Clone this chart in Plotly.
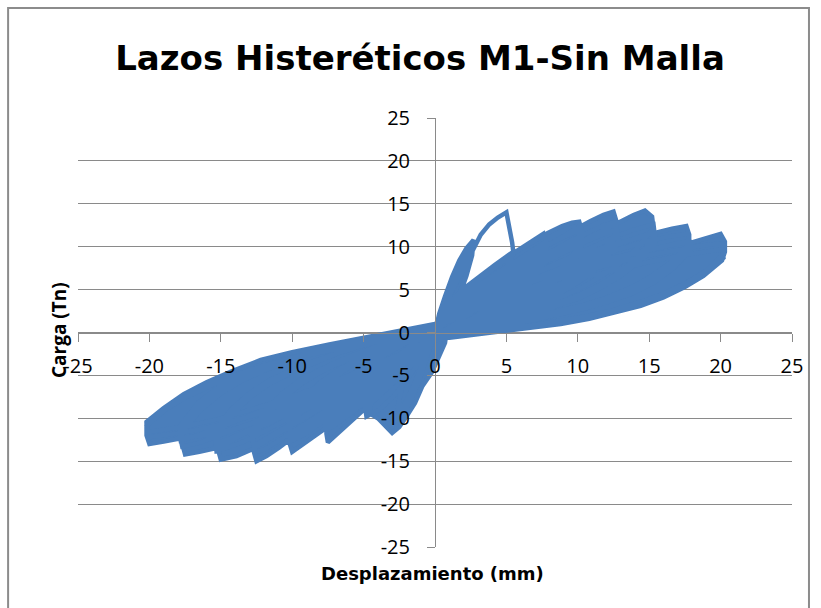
import plotly.graph_objects as go

# ---------------- data (desplazamiento mm, carga Tn) ----------------
desp_2_5 = [
    0.0, 0.3, 0.7, 1.2, 1.7, 2.2, 2.7,
    2.6, 2.2, 1.7, 1.2, 0.7, 0.3, 0.0,
    -0.4, -0.8, -1.2, -1.7, -2.1, -2.5,
    -2.6, -2.3, -1.9, -1.4, -0.9, -0.4, 0.0,
    0.3, 0.7, 1.1, 1.6, 2.1, 2.6,
    2.4, 2.0, 1.5, 1.0, 0.5, 0.0,
    -0.5, -0.9, -1.4, -1.9, -2.4,
    -2.5, -2.2, -1.7, -1.1, -0.5, 0.0,
]
carga_2_5 = [
    0.0, 2.2, 4.2, 6.5, 8.4, 9.8, 10.8,
    9.0, 6.6, 4.3, 2.5, 1.1, 0.3, -0.4,
    -2.0, -4.0, -6.0, -7.8, -9.2, -10.2,
    -8.6, -6.3, -4.3, -2.6, -1.2, -0.1, 0.6,
    1.8, 3.6, 5.4, 7.2, 8.7, 9.8,
    8.0, 5.8, 3.7, 2.0, 0.7, -0.4,
    -2.0, -3.8, -5.8, -7.6, -9.2,
    -7.8, -5.5, -3.4, -1.7, -0.4, 0.6,
]

# 5 mm, first cycle: positive half (peak and sudden drop), then negative half
desp_5a_pos = [
    0.4, 1.0, 1.6, 2.2, 2.7, 3.2, 3.8, 4.4, 5.0,
    5.2, 5.4, 5.5, 5.0, 4.3, 3.5, 2.6, 1.7, 0.8,
]
carga_5a_pos = [
    2.2, 4.2, 6.2, 8.2, 9.9, 11.4, 12.6, 13.4, 14.0,
    12.5, 10.5, 9.2, 7.6, 5.8, 4.0, 2.5, 1.3, 0.0,
]
desp_5a_neg = [
    0.7, 0.3, -0.2, -0.9, -1.4, -2.0, -2.5, -3.0, -3.5, -4.0, -4.6,
    -4.4, -3.9, -3.2, -2.4, -1.5, -0.6, 0.0,
]
carga_5a_neg = [
    -1.2, -2.8, -4.6, -6.3, -8.2, -9.8, -11.0, -11.7, -10.8, -10.0, -9.4,
    -7.6, -5.8, -4.0, -2.5, -1.3, -0.3, 0.6,
]
# 5 mm, second cycle
desp_5b = [
    0.6, 1.3, 2.0, 3.0, 4.2, 5.3,
    5.4, 4.6, 3.6, 2.6, 1.6, 0.6, 0.0,
    -0.6, -1.3, -2.1, -3.0, -3.9, -4.8,
    -4.9, -4.2, -3.3, -2.4, -1.4, -0.5, 0.0,
]
carga_5b = [
    2.4, 4.0, 5.1, 6.4, 7.9, 9.2,
    8.2, 6.0, 4.0, 2.4, 1.2, 0.2, -0.5,
    -2.0, -3.9, -5.8, -7.6, -9.0, -9.8,
    -8.6, -6.2, -4.1, -2.5, -1.1, 0.0, 0.7,
]

desp_7_5 = [
    0.8, 1.8, 2.9, 4.0, 5.0, 6.2, 7.0, 7.6,
    7.8, 7.8, 7.0, 6.0, 5.0, 4.0, 3.0, 2.0, 1.0, 0.0,
    -0.8, -1.7, -2.8, -4.0, -5.2, -6.2, -7.0, -7.5,
    -7.6, -7.6, -6.8, -5.8, -4.8, -3.8, -2.8, -1.8, -0.9, 0.0,
    1.0, 2.2, 3.5, 4.8, 6.0, 7.0, 7.6,
    7.7, 6.8, 5.7, 4.6, 3.5, 2.4, 1.2, 0.0,
    -1.0, -2.2, -3.5, -4.8, -6.0, -7.0, -7.6,
    -7.7, -6.8, -5.7, -4.5, -3.3, -2.1, -1.0, 0.0,
    1.1, 2.4, 3.8, 5.1, 6.3, 7.2, 7.7,
    7.8, 6.9, 5.8, 4.7, 3.5, 2.3, 1.1, 0.0,
    -1.1, -2.4, -3.8, -5.1, -6.3, -7.2, -7.7,
    -7.8, -6.9, -5.8, -4.6, -3.4, -2.2, -1.0, 0.0,
]
carga_7_5 = [
    2.6, 4.4, 6.0, 7.5, 8.7, 10.0, 10.9, 11.5,
    10.5, 9.3, 7.5, 5.7, 4.3, 3.1, 2.0, 1.1, 0.3, -0.6,
    -2.2, -3.9, -5.7, -7.5, -9.2, -10.8, -12.0, -12.8,
    -11.8, -10.4, -7.9, -5.8, -4.2, -2.9, -1.8, -0.9, -0.1, 0.7,
    2.6, 4.4, 6.0, 7.4, 8.7, 9.8, 10.4,
    9.2, 6.9, 5.0, 3.6, 2.4, 1.4, 0.5, -0.5,
    -2.2, -4.2, -6.2, -8.0, -9.6, -10.8, -11.4,
    -10.0, -7.4, -5.3, -3.7, -2.4, -1.3, -0.4, 0.5,
    2.4, 4.0, 5.5, 6.9, 8.1, 9.0, 9.6,
    8.5, 6.4, 4.7, 3.3, 2.2, 1.2, 0.4, -0.5,
    -2.0, -3.9, -5.8, -7.5, -9.0, -10.1, -10.7,
    -9.4, -6.9, -4.9, -3.4, -2.2, -1.2, -0.3, 0.6,
]

desp_10 = [
    1.0, 2.0, 3.2, 4.4, 5.6, 6.8, 7.9, 8.9, 9.6, 10.1,
    10.3, 10.3, 9.4, 8.4, 7.3, 6.2, 5.0, 3.8, 2.6, 1.3, 0.0,
    -1.0, -2.2, -3.5, -4.8, -6.0, -7.2, -8.3, -9.2, -10.0,
    -10.2, -10.2, -9.3, -8.2, -7.1, -6.0, -4.9, -3.7, -2.5, -1.2, 0.0,
    1.2, 2.6, 4.0, 5.4, 6.8, 8.0, 9.1, 10.0,
    10.2, 9.2, 8.0, 6.8, 5.6, 4.4, 3.2, 2.0, 1.0, 0.0,
    -1.2, -2.6, -4.0, -5.4, -6.8, -8.0, -9.1, -10.0,
    -10.2, -9.2, -8.0, -6.8, -5.6, -4.4, -3.2, -2.0, -1.0, 0.0,
    1.3, 2.8, 4.3, 5.8, 7.2, 8.4, 9.4, 10.1,
    10.3, 9.3, 8.1, 6.9, 5.6, 4.3, 3.0, 1.8, 0.8, 0.0,
    -1.3, -2.8, -4.3, -5.8, -7.2, -8.4, -9.4, -10.1,
    -10.3, -9.3, -8.1, -6.9, -5.6, -4.3, -3.0, -1.8, -0.8, 0.0,
]
carga_10 = [
    2.9, 4.7, 6.3, 7.8, 9.3, 10.5, 11.6, 12.4, 12.8, 12.9,
    11.8, 10.4, 8.4, 6.8, 5.4, 4.2, 3.2, 2.3, 1.5, 0.6, -0.5,
    -2.4, -4.2, -6.0, -7.7, -9.2, -10.6, -11.9, -13.0, -13.9,
    -12.8, -11.3, -8.9, -6.9, -5.3, -4.0, -2.9, -1.9, -1.0, -0.2, 0.7,
    2.8, 4.7, 6.4, 7.9, 9.2, 10.3, 11.2, 11.8,
    10.4, 7.9, 6.1, 4.7, 3.6, 2.6, 1.8, 1.0, 0.3, -0.4,
    -2.2, -4.1, -5.9, -7.6, -9.2, -10.6, -11.8, -12.6,
    -11.2, -8.4, -6.3, -4.8, -3.6, -2.6, -1.7, -0.9, -0.2, 0.6,
    2.6, 4.3, 5.9, 7.3, 8.6, 9.6, 10.4, 10.9,
    9.7, 7.4, 5.6, 4.3, 3.2, 2.3, 1.5, 0.8, 0.2, -0.4,
    -2.1, -3.9, -5.6, -7.2, -8.7, -10.0, -11.0, -11.7,
    -10.4, -7.9, -5.9, -4.5, -3.3, -2.4, -1.5, -0.7, -0.1, 0.6,
]

desp_12_5 = [
    1.3, 2.7, 4.2, 5.7, 7.2, 8.6, 9.8, 10.9, 11.8, 12.5,
    12.7, 12.7, 11.6, 10.4, 9.2, 8.0, 6.7, 5.3, 3.9, 2.6, 1.3, 0.0,
    -1.3, -2.7, -4.2, -5.7, -7.2, -8.6, -9.8, -10.9, -11.8, -12.5,
    -12.7, -12.7, -11.6, -10.4, -9.2, -8.0, -6.7, -5.3, -3.9, -2.6, -1.3, 0.0,
    1.5, 3.1, 4.7, 6.3, 7.9, 9.4, 10.7, 11.8, 12.6,
    12.8, 11.8, 10.6, 9.3, 8.0, 6.6, 5.2, 3.8, 2.4, 1.1, 0.0,
    -1.5, -3.1, -4.7, -6.3, -7.9, -9.4, -10.7, -11.8, -12.6,
    -12.8, -11.8, -10.6, -9.3, -8.0, -6.6, -5.2, -3.8, -2.4, -1.1, 0.0,
    1.6, 3.3, 5.0, 6.7, 8.3, 9.8, 11.1, 12.1, 12.7,
    12.9, 11.9, 10.7, 9.4, 8.0, 6.6, 5.2, 3.8, 2.4, 1.1, 0.0,
    -1.6, -3.3, -5.0, -6.7, -8.3, -9.8, -11.1, -12.1, -12.7,
    -12.9, -11.9, -10.7, -9.4, -8.0, -6.6, -5.2, -3.8, -2.4, -1.1, 0.0,
]
carga_12_5 = [
    3.0, 4.8, 6.5, 8.0, 9.5, 10.9, 12.0, 13.0, 13.7, 14.1,
    13.0, 11.6, 9.3, 7.5, 6.0, 4.8, 3.7, 2.7, 1.9, 1.1, 0.4, -0.5,
    -2.4, -4.2, -5.9, -7.5, -9.1, -10.6, -12.0, -13.4, -14.4, -15.0,
    -13.8, -12.0, -9.4, -7.3, -5.8, -4.6, -3.5, -2.5, -1.6, -0.8, 0.0, 0.8,
    2.7, 4.5, 6.1, 7.7, 9.2, 10.6, 11.7, 12.5, 12.9,
    11.5, 9.0, 7.1, 5.6, 4.4, 3.4, 2.5, 1.7, 1.0, 0.3, -0.4,
    -2.3, -4.2, -6.0, -7.7, -9.4, -11.0, -12.4, -13.5, -14.0,
    -12.5, -9.8, -7.6, -5.9, -4.6, -3.5, -2.5, -1.6, -0.8, 0.0, 0.7,
    2.5, 4.2, 5.8, 7.3, 8.7, 10.0, 11.0, 11.7, 12.0,
    10.7, 8.4, 6.6, 5.2, 4.0, 3.0, 2.2, 1.5, 0.8, 0.2, -0.4,
    -2.2, -4.0, -5.7, -7.3, -8.9, -10.4, -11.7, -12.7, -13.2,
    -11.8, -9.2, -7.1, -5.5, -4.3, -3.2, -2.3, -1.5, -0.7, 0.0, 0.7,
]

desp_15 = [
    1.6, 3.3, 5.0, 6.8, 8.5, 10.1, 11.6, 12.9, 13.9, 14.7,
    15.2, 15.3, 14.2, 12.9, 11.5, 10.0, 8.5, 7.0, 5.5, 4.0, 2.6, 1.3, 0.0,
    -1.6, -3.3, -5.0, -6.8, -8.5, -10.1, -11.6, -12.8, -13.9, -15.0,
    -15.2, -15.2, -14.0, -12.7, -11.3, -9.8, -8.3, -6.8, -5.3, -3.8, -2.4, -1.1, 0.0,
    1.8, 3.7, 5.6, 7.5, 9.3, 11.0, 12.5, 13.8, 14.8, 15.3,
    15.4, 14.3, 13.0, 11.6, 10.1, 8.6, 7.1, 5.6, 4.1, 2.6, 1.2, 0.0,
    -1.8, -3.7, -5.6, -7.5, -9.3, -11.0, -12.5, -13.8, -14.8, -15.3,
    -15.4, -14.3, -13.0, -11.6, -10.1, -8.6, -7.1, -5.6, -4.1, -2.6, -1.2, 0.0,
    2.0, 4.0, 6.0, 8.0, 9.9, 11.7, 13.2, 14.4, 15.2,
    15.4, 14.3, 13.0, 11.6, 10.1, 8.6, 7.1, 5.6, 4.1, 2.6, 1.2, 0.0,
    -2.0, -4.0, -6.0, -8.0, -9.9, -11.7, -13.2, -14.4, -15.2,
    -15.4, -14.3, -13.0, -11.6, -10.1, -8.6, -7.1, -5.6, -4.1, -2.6, -1.2, 0.0,
]
carga_15 = [
    3.0, 4.7, 6.2, 7.7, 9.1, 10.5, 11.8, 12.9, 13.7, 14.2,
    13.5, 12.2, 9.9, 8.0, 6.4, 5.0, 3.9, 3.0, 2.2, 1.5, 0.8, 0.2, -0.5,
    -2.5, -4.3, -6.0, -7.7, -9.3, -10.9, -12.4, -13.6, -14.4, -14.8,
    -13.6, -11.8, -9.2, -7.2, -5.6, -4.4, -3.3, -2.4, -1.6, -0.9, -0.2, 0.4, 0.9,
    2.8, 4.4, 5.9, 7.3, 8.7, 10.0, 11.1, 11.9, 12.4, 12.6,
    11.2, 8.9, 7.1, 5.6, 4.4, 3.4, 2.6, 1.9, 1.2, 0.6, 0.0, -0.5,
    -2.4, -4.2, -5.9, -7.6, -9.2, -10.7, -12.0, -13.0, -13.6, -13.8,
    -12.2, -9.6, -7.6, -6.0, -4.7, -3.6, -2.6, -1.8, -1.1, -0.4, 0.2, 0.8,
    2.6, 4.2, 5.6, 7.0, 8.3, 9.5, 10.5, 11.2, 11.6,
    10.4, 8.3, 6.6, 5.2, 4.0, 3.1, 2.3, 1.6, 1.0, 0.4, -0.1, -0.5,
    -2.4, -4.1, -5.8, -7.4, -8.9, -10.3, -11.5, -12.4, -12.9,
    -11.4, -9.0, -7.1, -5.6, -4.4, -3.4, -2.5, -1.7, -1.0, -0.3, 0.2, 0.7,
]

desp_17_5 = [
    2.0, 4.0, 6.0, 8.0, 10.0, 11.8, 13.6, 15.4, 16.6, 17.6,
    17.8, 17.8, 16.6, 15.2, 13.7, 12.1, 10.4, 8.7, 7.0, 5.3, 3.6, 1.8, 0.0,
    -2.0, -4.0, -6.0, -8.0, -10.0, -11.8, -13.6, -15.1, -16.5, -17.5,
    -17.7, -17.7, -16.4, -15.0, -13.5, -11.9, -10.2, -8.5, -6.8, -5.1, -3.4, -1.7, 0.0,
    2.2, 4.4, 6.6, 8.8, 10.9, 12.9, 14.8, 16.4, 17.7,
    17.9, 16.7, 15.3, 13.8, 12.1, 10.4, 8.6, 6.8, 5.0, 3.2, 1.5, 0.0,
    -2.2, -4.4, -6.6, -8.8, -10.9, -12.9, -14.8, -16.4, -17.7,
    -17.9, -16.6, -15.1, -13.5, -11.8, -10.0, -8.2, -6.4, -4.6, -2.8, -1.2, 0.0,
    2.4, 4.8, 7.2, 9.5, 11.7, 13.8, 15.6, 17.0, 17.8,
    17.9, 16.7, 15.3, 13.7, 12.0, 10.3, 8.5, 6.7, 4.9, 3.1, 1.4, 0.0,
    -2.4, -4.8, -7.2, -9.5, -11.7, -13.8, -15.6, -17.0, -17.8,
    -17.9, -16.6, -15.1, -13.5, -11.8, -10.0, -8.2, -6.4, -4.6, -2.8, -1.2, 0.0,
]
carga_17_5 = [
    3.0, 4.7, 6.2, 7.6, 8.9, 9.9, 10.8, 11.6, 12.1, 12.4,
    11.4, 10.3, 8.3, 6.6, 5.2, 4.1, 3.2, 2.5, 1.8, 1.2, 0.6, 0.0, -0.6,
    -2.6, -4.4, -6.1, -7.7, -9.3, -10.7, -12.0, -13.4, -13.9, -14.2,
    -13.0, -11.6, -9.0, -7.1, -5.6, -4.4, -3.4, -2.5, -1.8, -1.1, -0.4, 0.3, 0.9,
    2.8, 4.4, 5.9, 7.3, 8.6, 9.7, 10.6, 11.2, 11.5,
    10.2, 7.9, 6.1, 4.8, 3.8, 2.9, 2.2, 1.5, 0.9, 0.4, -0.1, -0.6,
    -2.5, -4.3, -6.0, -7.6, -9.2, -10.6, -11.8, -12.8, -13.3,
    -11.7, -8.6, -6.6, -5.1, -4.0, -3.0, -2.2, -1.5, -0.8, -0.1, 0.4, 0.8,
    2.6, 4.2, 5.6, 6.9, 8.1, 9.1, 9.9, 10.4, 10.7,
    9.6, 7.5, 5.8, 4.5, 3.5, 2.7, 2.0, 1.4, 0.8, 0.3, -0.2, -0.6,
    -2.5, -4.2, -5.9, -7.4, -8.9, -10.3, -11.4, -12.2, -12.6,
    -11.0, -8.2, -6.3, -4.9, -3.8, -2.9, -2.1, -1.4, -0.7, -0.1, 0.4, 0.8,
]

desp_20 = [
    2.2, 4.5, 6.8, 9.1, 11.4, 13.6, 15.6, 17.3, 18.0, 19.0, 20.0,
    20.3, 20.3, 20.1, 18.8, 17.5, 16.0, 14.4, 12.6, 10.8, 8.8, 6.8, 4.8, 2.8, 1.0, 0.0,
    -1.0, -2.5, -4.5, -6.8, -9.1, -11.4, -13.6, -15.6, -17.7, -19.0, -20.0,
    -20.2, -20.2, -19.0, -17.6, -16.0, -14.2, -12.2, -10.0, -7.4, -5.0, -2.8, -1.2, 0.0,
    2.5, 5.0, 7.5, 10.0, 12.4, 14.7, 16.8, 18.6, 19.5, 20.1,
    20.2, 19.0, 17.6, 16.0, 14.3, 12.5, 10.6, 8.6, 6.6, 4.6, 2.6, 1.0, 0.0,
    -1.2, -2.8, -5.0, -7.5, -10.0, -12.4, -14.7, -16.8, -18.6, -20.1,
    -20.2, -18.9, -17.4, -15.7, -13.9, -11.9, -9.8, -7.5, -5.2, -3.0, -1.2, 0.0,
    2.6, 5.2, 7.8, 10.4, 12.9, 15.2, 17.3, 19.0, 20.1,
    20.2, 19.0, 17.6, 16.0, 14.3, 12.5, 10.6, 8.6, 6.6, 4.6, 2.6, 1.0, 0.0,
    -1.3, -3.0, -5.3, -7.9, -10.4, -12.9, -15.2, -17.3, -19.0, -20.1,
    -20.2, -18.9, -17.4, -15.7, -13.9, -11.9, -9.8, -7.5, -5.2, -3.0, -1.2, 0.0,
]
carga_20 = [
    2.9, 4.5, 5.9, 7.2, 8.3, 9.2, 9.9, 10.4, 10.5, 11.0, 11.5,
    10.6, 9.4, 8.4, 6.6, 5.3, 4.1, 3.1, 2.3, 1.6, 1.0, 0.6, 0.2, -0.2, -0.6, -0.9,
    -1.8, -3.1, -4.8, -6.6, -8.3, -9.8, -11.0, -11.9, -12.3, -12.7, -13.0,
    -12.0, -10.4, -8.8, -7.2, -5.8, -4.5, -3.2, -2.3, -1.4, -0.6, 0.1, 0.6, 1.0,
    2.7, 4.2, 5.6, 6.9, 8.0, 8.9, 9.6, 10.1, 10.3, 10.4,
    9.2, 7.2, 5.8, 4.5, 3.5, 2.6, 1.9, 1.3, 0.8, 0.4, 0.0, -0.4, -0.7,
    -1.8, -3.1, -4.8, -6.5, -8.1, -9.5, -10.6, -11.4, -11.9, -12.2,
    -10.9, -9.0, -7.5, -6.2, -5.0, -3.9, -3.0, -2.1, -1.3, -0.5, 0.2, 0.6,
    2.5, 3.9, 5.2, 6.4, 7.4, 8.3, 9.0, 9.5, 9.7,
    8.7, 6.9, 5.5, 4.3, 3.3, 2.5, 1.8, 1.2, 0.7, 0.3, -0.1, -0.4, -0.6,
    -1.7, -3.0, -4.6, -6.2, -7.7, -9.0, -10.1, -10.9, -11.4, -11.6,
    -10.5, -8.7, -7.3, -6.0, -4.9, -3.8, -2.9, -2.0, -1.2, -0.5, 0.1, 0.5,
]

tick_vals = [-25, -20, -15, -10, -5, 0, 5, 10, 15, 20, 25]
tick_text = ["-25", "-20", "-15", "-10", "-5", "0", "5", "10", "15", "20", "25"]

titulo = "Lazos Histeréticos M1-Sin Malla"
titulo_x = "Desplazamiento (mm)"
titulo_y = "Carga (Tn)"

# ---------------- figure ----------------
desp = (desp_2_5 + desp_5a_pos + desp_5a_neg + desp_5b + desp_7_5 + desp_10
        + desp_12_5 + desp_15 + desp_17_5 + desp_20)
carga = (carga_2_5 + carga_5a_pos + carga_5a_neg + carga_5b + carga_7_5 + carga_10
         + carga_12_5 + carga_15 + carga_17_5 + carga_20)

# the loops overlap so densely that their interior reads as solid; the first
# 5 mm positive excursion (peak + drop) encloses an empty region and stays unfilled
desp_lazos = (desp_2_5 + desp_5a_neg + desp_5b + desp_7_5 + desp_10
              + desp_12_5 + desp_15 + desp_17_5 + desp_20)
carga_lazos = (carga_2_5 + carga_5a_neg + carga_5b + carga_7_5 + carga_10
               + carga_12_5 + carga_15 + carga_17_5 + carga_20)

FONT = "'Open Sans', 'DejaVu Sans', sans-serif"
WIDE_FONT = "'DejaVu Sans', 'Open Sans', sans-serif"
AXIS_COLOR = "#8a8a8a"
BLUE = "#4a7ebb"

fig = go.Figure()
fig.add_trace(go.Scatter(
    x=desp_lazos, y=carga_lazos, mode="none", fill="toself", fillcolor=BLUE,
    hoverinfo="skip", showlegend=False,
))
fig.add_trace(go.Scatter(
    x=desp, y=carga, mode="lines",
    line=dict(color=BLUE, width=4.5),
    hoverinfo="skip", showlegend=False,
))

axis_common = dict(
    range=[-25, 25], tickmode="array", tickvals=tick_vals, ticktext=tick_text,
    anchor="free", position=0.5, showline=True, linecolor=AXIS_COLOR, linewidth=1,
    ticks="outside", ticklen=8, tickcolor=AXIS_COLOR, tickwidth=1,
    zeroline=False, tickfont=dict(family=FONT, size=20, color="#000000"),
    fixedrange=True,
)

fig.update_layout(
    width=821, height=608,
    margin=dict(l=78, r=29, t=118, b=61, pad=0),
    paper_bgcolor="white", plot_bgcolor="white",
    xaxis=dict(**axis_common, showgrid=False, ticklabelstandoff=7),
    yaxis=dict(**axis_common, showgrid=True, gridcolor=AXIS_COLOR, gridwidth=1,
               ticklabelstandoff=13),
    title=dict(text=titulo, x=0.5116, xref="container", xanchor="center",
               y=1 - 58 / 608, yref="container", yanchor="middle",
               font=dict(family=WIDE_FONT, size=34, color="#000000", weight="bold")),
    annotations=[
        dict(text=titulo_y, textangle=-90, xref="paper", yref="paper",
             x=(59 - 78) / 715, y=(547 - 330) / 429, showarrow=False,
             xanchor="center", yanchor="middle",
             font=dict(family=FONT, size=19, color="#000000", weight="bold")),
        dict(text=titulo_x, xref="paper", yref="paper",
             x=(433 - 78) / 715, y=(547 - 573) / 429, showarrow=False,
             xanchor="center", yanchor="middle",
             font=dict(family=WIDE_FONT, size=18, color="#000000", weight="bold")),
    ],
    shapes=[
        dict(type="rect", xref="paper", yref="paper",
             x0=(8 - 78) / 715, x1=(810 - 78) / 715,
             y0=(547 - 620) / 429, y1=(547 - 8) / 429,
             line=dict(color="#8c8c8c", width=2), layer="below"),
    ],
)

fig.write_html(
    "out.html",
    config={"displayModeBar": False, "staticPlot": True},
    post_script="document.body.style.margin='0';document.body.style.overflow='hidden';",
)
